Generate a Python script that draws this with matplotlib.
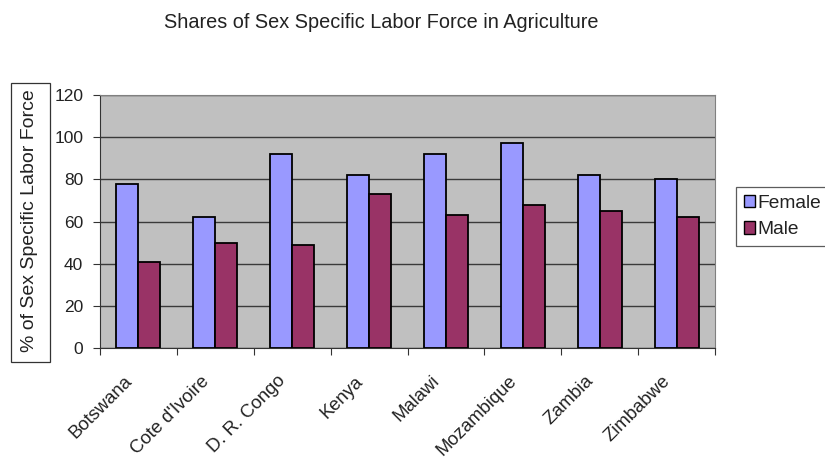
import matplotlib
matplotlib.use("Agg")
import matplotlib.pyplot as plt
import numpy as np
from matplotlib.patches import Patch, Rectangle
from matplotlib.transforms import ScaledTranslation

plt.rcParams['font.family'] = ['Liberation Sans', 'DejaVu Sans']

countries = ["Botswana", "Cote d'Ivoire", "D. R. Congo", "Kenya", "Malawi",
             "Mozambique", "Zambia", "Zimbabwe"]
female = [78, 62, 92, 82, 92, 97, 82, 80]
male = [41, 50, 49, 73, 63, 68, 65, 62]
yticks = [0, 20, 40, 60, 80, 100, 120]

W, H = 825, 459
fig = plt.figure(figsize=(8.25, 4.59), dpi=100)
ax = fig.add_axes([100 / W, 1 - 348 / H, 615 / W, 253 / H])
ax.set_facecolor('#C0C0C0')

x = np.arange(len(countries))
w = 1 / 3.5
ax.bar(x - w / 2, female, w, color='#9999FF', edgecolor='black', linewidth=1.3, zorder=3)
ax.bar(x + w / 2, male, w, color='#993366', edgecolor='black', linewidth=1.3, zorder=3)

ax.set_xlim(-0.5, len(countries) - 0.5)
ax.set_ylim(0, 120)
ax.set_yticks(yticks)
ax.yaxis.grid(True, color='#3a3a3a', linewidth=1.0, zorder=1)
ax.set_axisbelow(True)
ax.tick_params(axis='y', labelsize=12.5, length=5, pad=7, direction='out',
               color='#333333', labelcolor='#222222')
ax.set_xticks(np.arange(-0.5, len(countries), 1.0))
ax.set_xticklabels([])
ax.tick_params(axis='x', length=5, direction='out', color='#333333')
ax.set_xticks(x, minor=True)
ax.set_xticklabels(countries, minor=True, rotation=45, ha='right', va='center',
                   rotation_mode='anchor', fontsize=13.3, color='#222222')
ax.tick_params(axis='x', which='minor', length=0, pad=22)
off = ScaledTranslation(-9 / 100, 0, fig.dpi_scale_trans)
for lab in ax.get_xticklabels(minor=True):
    lab.set_transform(lab.get_transform() + off)

for s in ['top', 'right']:
    ax.spines[s].set_color('#808080')
for s in ['left', 'bottom']:
    ax.spines[s].set_color('#333333')

fig.text(381 / W, 1 - 23 / H, "Shares of Sex Specific Labor Force in Agriculture",
         ha='center', va='center', fontsize=14.3, color='#222222')

fig.patches.append(Rectangle((11 / W, 1 - 362 / H), 39 / W, 279 / H,
                             transform=fig.transFigure, facecolor='white',
                             edgecolor='#333333', linewidth=0.9, zorder=0))
fig.text(30 / W, 1 - 221 / H, "% of Sex Specific Labor Force", rotation=90,
         ha='center', va='center', fontsize=14, color='#222222')

handles = [Patch(facecolor='#9999FF', edgecolor='black', label='Female'),
           Patch(facecolor='#993366', edgecolor='black', label='Male')]
leg = fig.legend(handles=handles, loc='upper left', bbox_to_anchor=(736 / W, 1 - 187 / H),
                 fontsize=13.8, frameon=True, fancybox=False, edgecolor='#333333',
                 handlelength=0.6, handleheight=0.6, handletextpad=0.12,
                 borderpad=0.4, labelspacing=0.5, borderaxespad=0)
leg.get_frame().set_linewidth(0.9)
for t in leg.get_texts():
    t.set_color('#222222')

fig.savefig("out.png", dpi=100)
